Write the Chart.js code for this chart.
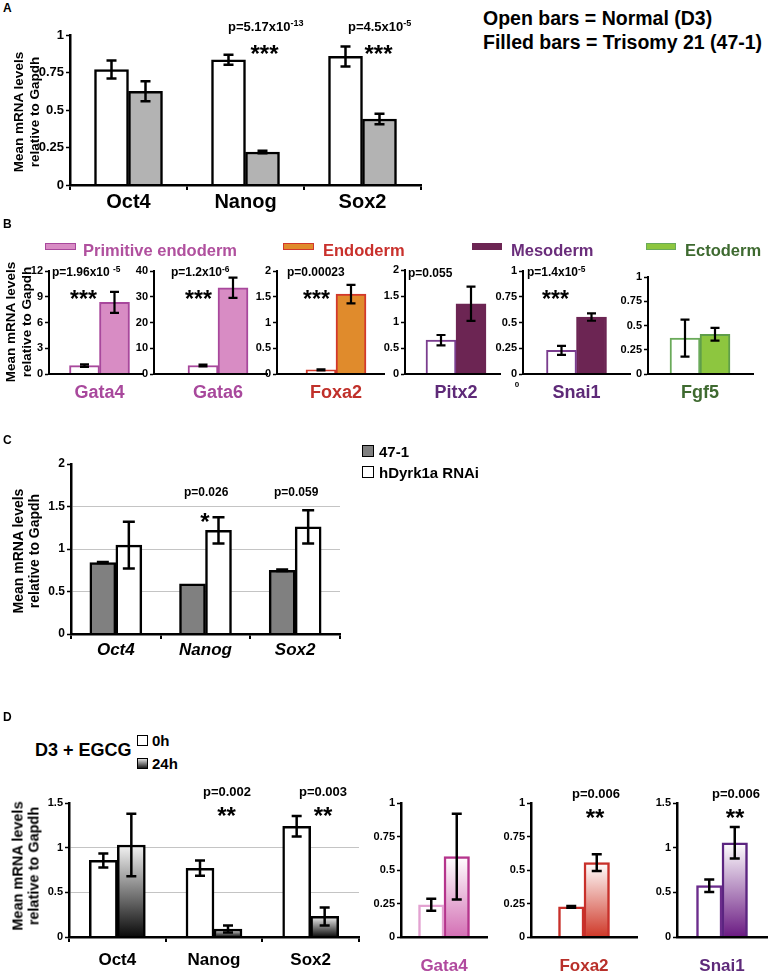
<!DOCTYPE html>
<html><head><meta charset="utf-8">
<script src="https://cdn.jsdelivr.net/npm/chart.js@4.4.1/dist/chart.umd.min.js"></script>
<style>
html,body{margin:0;padding:0;background:#fff}
body{width:769px;height:971px;position:relative;overflow:hidden;font-family:"Liberation Sans",Arial,Helvetica,sans-serif;font-weight:bold;color:#000}
canvas{position:absolute}
.t{position:absolute;white-space:nowrap;line-height:1}
.t sup{font-size:0.7em;vertical-align:0.45em;line-height:0}
.sw{position:absolute;box-sizing:border-box}
</style></head><body>
<script>
// ---------- DATA ----------
const panelACategories = ['Oct4', 'Nanog', 'Sox2'];
const panelANormal = [0.77, 0.835, 0.857];
const panelANormalErr = [0.06, 0.033, 0.067];
const panelATrisomy = [0.625, 0.22, 0.44];
const panelATrisomyErr = [0.067, 0.008, 0.035];

const panelBGenes = ['Gata4', 'Gata6', 'Foxa2', 'Pitx2', 'Snai1', 'Fgf5'];
const panelBNormal = [0.97, 3.3, 0.08, 0.65, 0.23, 0.37];
const panelBNormalErr = [0.15, 0.35, 0.012, 0.1, 0.044, 0.19];
const panelBTrisomy = [8.35, 33.5, 1.55, 1.35, 0.553, 0.41];
const panelBTrisomyErr = [1.22, 3.9, 0.18, 0.33, 0.036, 0.065];
const panelBAxisMax = [12, 40, 2, 2, 1, 1];
const panelBAxisStep = [3, 10, 0.5, 0.5, 0.25, 0.25];

const panelCCategories = ['Oct4', 'Nanog', 'Sox2'];
const panelC471 = [0.84, 0.59, 0.75];
const panelC471Err = [0.006, 0, 0.01];
const panelCRNAi = [1.045, 1.22, 1.26];
const panelCRNAiErr = [0.275, 0.155, 0.195];

const panelDCategories = ['Oct4', 'Nanog', 'Sox2'];
const panelD0h = [0.857, 0.77, 1.24];
const panelD0hErr = [0.078, 0.085, 0.115];
const panelD24h = [1.03, 0.09, 0.23];
const panelD24hErr = [0.35, 0.04, 0.1];
const panelDMarkers = ['Gata4', 'Foxa2', 'Snai1'];
const panelDMarkers0h = [0.24, 0.225, 0.575];
const panelDMarkers0hErr = [0.045, 0.006, 0.07];
const panelDMarkers24h = [0.6, 0.555, 1.055];
const panelDMarkers24hErr = [0.32, 0.063, 0.176];
const panelDMarkerAxisMax = [1, 1, 1.5];
const panelDMarkerAxisStep = [0.25, 0.25, 0.5];

// ---------- SETUP ----------
Chart.defaults.font.family = '"Liberation Sans", Arial, Helvetica, sans-serif';
Chart.defaults.font.weight = 'bold';
Chart.defaults.color = '#000';
Chart.defaults.animation = false;

const errPlugin = {
  id: 'errbars',
  afterDatasetsDraw(chart, args, opts) {
    const ctx = chart.ctx, ys = chart.scales.y;
    ctx.save();
    ctx.strokeStyle = '#000';
    ctx.lineWidth = opts.lw || 2;
    chart.data.datasets.forEach((ds, di) => {
      if (!ds.errors) return;
      const meta = chart.getDatasetMeta(di);
      meta.data.forEach((el, i) => {
        const e = ds.errors[i];
        if (!e) return;
        const raw = ds.data[i];
        const v = typeof raw === 'object' ? raw.y : raw;
        const x = el.x, y1 = ys.getPixelForValue(v + e), y2 = ys.getPixelForValue(v - e);
        const h = (opts.cap || 10) / 2;
        ctx.beginPath();
        ctx.moveTo(x, y1); ctx.lineTo(x, y2);
        ctx.moveTo(x - h, y1); ctx.lineTo(x + h, y1);
        ctx.moveTo(x - h, y2); ctx.lineTo(x + h, y2);
        ctx.stroke();
      });
    });
    ctx.restore();
  }
};
Chart.register(errPlugin);

function gradFill(topColor, bottomColor) {
  return (c) => {
    if (c.type !== 'data') return bottomColor;
    const ch = c.chart, ys = ch.scales && ch.scales.y;
    if (!ys || !c.parsed) return bottomColor;
    const y0 = ys.getPixelForValue(c.parsed.y), y1 = ys.getPixelForValue(0);
    if (!isFinite(y0) || !isFinite(y1) || y0 === y1) return bottomColor;
    const g = ch.ctx.createLinearGradient(0, y0, 0, y1);
    g.addColorStop(0, topColor);
    g.addColorStop(1, bottomColor);
    return g;
  };
}

const fmt = v => String(+(+v).toFixed(4));

function makeChart(s) {
  const cv = document.createElement('canvas');
  const w = Math.round(s.R - s.L + s.yw + s.pr), h = Math.round(s.B - s.T + s.pt + s.xh);
  cv.width = w; cv.height = h;
  cv.style.left = (s.L - s.yw) + 'px';
  cv.style.top = (s.T - s.pt) + 'px';
  cv.style.width = w + 'px'; cv.style.height = h + 'px';
  document.body.appendChild(cv);
  const lin = s.center !== undefined;
  const frac = lin ? (s.center - s.L) / (s.R - s.L) : 0;
  const datasets = s.series.map(d => ({
    data: lin ? d.values.map(v => ({ x: frac, y: v })) : d.values,
    errors: d.errors,
    backgroundColor: d.bg,
    borderColor: d.border,
    borderWidth: d.bw,
    barThickness: s.barW,
    borderSkipped: 'start'
  }));
  const xTickFont = { size: s.xFont, style: s.xStyle || 'normal', weight: 'bold', lineHeight: 1.2 };
  const xScale = lin ? {
    type: 'linear', min: 0, max: 1, offset: false,
    afterBuildTicks: sc => { sc.ticks = [{ value: frac }]; },
    ticks: { callback: () => s.labels[0], color: s.xColor || '#000', font: xTickFont, padding: s.xPad, autoSkip: false, maxRotation: 0 },
    grid: { display: false, drawTicks: false },
    border: { display: true, color: '#000', width: s.axisW, z: 1 },
    afterFit: sc => { sc.height = s.xh; }
  } : {
    type: 'category', offset: true,
    ticks: { color: s.xColor || '#000', font: xTickFont, padding: s.xPad, autoSkip: false, maxRotation: 0 },
    grid: { display: !!s.xTicks, offset: true, drawOnChartArea: false, drawTicks: true, tickLength: 5, color: '#000', lineWidth: 2 },
    border: { display: true, color: '#000', width: s.axisW, z: 1 },
    afterFit: sc => { sc.height = s.xh; }
  };
  const yMax = s.yMax;
  return new Chart(cv, {
    type: 'bar',
    data: { labels: lin ? undefined : s.labels, datasets },
    options: {
      responsive: false, animation: false, devicePixelRatio: 1,
      layout: { padding: { top: s.pt, right: s.pr, left: 0, bottom: 0 } },
      plugins: { legend: { display: false }, tooltip: { enabled: false }, errbars: { cap: s.cap, lw: s.lw } },
      scales: {
        x: xScale,
        y: {
          min: 0, max: yMax,
          ticks: { stepSize: s.yStep, font: { size: s.yFont, weight: 'bold' }, padding: 2, color: '#000', callback: fmt },
          grid: {
            drawOnChartArea: !!s.yGrid,
            color: c => (c.tick && c.tick.value > 0 && c.tick.value < yMax) ? '#c4c4c4' : 'rgba(0,0,0,0)',
            tickColor: '#000', tickLength: 4, tickWidth: 1.5, lineWidth: 1
          },
          border: { display: true, color: '#000', width: s.axisW, z: 1 },
          afterFit: sc => { sc.width = s.yw; }
        }
      }
    }
  });
}

function txt(x, y, html, size, opts = {}) {
  const d = document.createElement('div');
  d.className = 't';
  d.innerHTML = html;
  d.style.left = x + 'px';
  d.style.top = y + 'px';
  d.style.fontSize = size + 'px';
  if (opts.color) d.style.color = opts.color;
  if (opts.italic) d.style.fontStyle = 'italic';
  d.style.transform = opts.center ? 'translate(-50%,-50%)' : 'translate(0,-50%)';
  document.body.appendChild(d);
  return d;
}
function ytitle(cx, cy, size) {
  const d = document.createElement('div');
  d.className = 't';
  d.style.left = cx + 'px'; d.style.top = cy + 'px';
  d.style.fontSize = size + 'px';
  d.style.lineHeight = '15.5px';
  d.style.textAlign = 'center';
  d.style.transform = 'translate(-50%,-50%) rotate(-90deg)';
  d.innerHTML = 'Mean mRNA levels<br>relative to Gapdh';
  document.body.appendChild(d);
}
function swatch(x, y, w, h, bg, border, bw) {
  const d = document.createElement('div');
  d.className = 'sw';
  d.style.left = x + 'px'; d.style.top = y + 'px';
  d.style.width = w + 'px'; d.style.height = h + 'px';
  d.style.background = bg;
  d.style.border = bw + 'px solid ' + border;
  document.body.appendChild(d);
}

// ---------- PANEL A ----------
makeChart({
  L: 70, R: 421, T: 35, B: 185, yw: 42, xh: 40, pt: 10, pr: 3,
  labels: panelACategories, barW: 34, yMax: 1, yStep: 0.25, yFont: 13,
  xFont: 20, xPad: 0, xTicks: true, axisW: 2.5, cap: 10, lw: 2.5,
  series: [
    { values: panelANormal, errors: panelANormalErr, bg: '#ffffff', border: '#000', bw: 2.5 },
    { values: panelATrisomy, errors: panelATrisomyErr, bg: '#b3b3b3', border: '#000', bw: 2.5 }
  ]
});
txt(3, 8, 'A', 12);
ytitle(25.5, 112, 13.5);
txt(228, 26, 'p=5.17x10<sup>-13</sup>', 13);
txt(264.5, 54, '***', 24, { center: true });
txt(348, 26, 'p=4.5x10<sup>-5</sup>', 13);
txt(378.5, 54, '***', 24, { center: true });
txt(483, 19, 'Open bars = Normal (D3)', 19.5);
txt(483, 43, 'Filled bars = Trisomy 21 (47-1)', 19.5);

// ---------- PANEL B ----------
const bGeom = [
  { L: 49, R: 143, T: 271, c: 99.5 },
  { L: 154, R: 267, T: 271, c: 218 },
  { L: 277, R: 384, T: 271, c: 336 },
  { L: 405, R: 500, T: 270, c: 456 },
  { L: 523, R: 630, T: 271, c: 576.5 },
  { L: 648, R: 753, T: 277, c: 700 }
];
const bStyle = [
  { fill: '#d88cc4', border: '#a8489c', open: '#a8489c', label: '#a8489c' },
  { fill: '#d88cc4', border: '#a8489c', open: '#a8489c', label: '#a8489c' },
  { fill: '#e08b2c', border: '#d2382b', open: '#d2382b', label: '#c0302a' },
  { fill: '#6c2553', border: '#6c2553', open: '#7a3d8e', label: '#5e2a78' },
  { fill: '#6c2553', border: '#6c2553', open: '#7a3d8e', label: '#5e2a78' },
  { fill: '#8dc63f', border: '#5f9e4a', open: '#6aaa5a', label: '#3f6a30' }
];
panelBGenes.forEach((g, i) => {
  const G = bGeom[i], S = bStyle[i];
  makeChart({
    L: G.L, R: G.R, T: G.T, B: 374, yw: 30, xh: 32, pt: 10, pr: 2, center: G.c,
    labels: [g], barW: 30, yMax: panelBAxisMax[i], yStep: panelBAxisStep[i], yFont: 11,
    xFont: 18, xPad: 8, xColor: S.label, axisW: 2, cap: 9, lw: 2.2,
    series: [
      { values: [panelBNormal[i]], errors: [panelBNormalErr[i]], bg: '#ffffff', border: S.open, bw: 2 },
      { values: [panelBTrisomy[i]], errors: [panelBTrisomyErr[i]], bg: S.fill, border: S.border, bw: 2 }
    ]
  });
});
txt(3, 224, 'B', 12);
ytitle(17.5, 322, 13.5);
swatch(45, 243, 31, 7, '#d88cc4', '#a8489c', 1.5);
txt(83, 250, 'Primitive endoderm', 16.5, { color: '#b0509e' });
swatch(283, 243, 31, 7, '#e08b2c', '#d2382b', 1.5);
txt(323, 250, 'Endoderm', 16.5, { color: '#c9302c' });
swatch(472, 243, 30, 7, '#6c2553', '#6c2553', 1.5);
txt(511, 250, 'Mesoderm', 16.5, { color: '#6a2d7b' });
swatch(646, 243, 30, 7, '#8dc63f', '#6aaa5a', 1.5);
txt(685, 250, 'Ectoderm', 16.5, { color: '#3e6a30' });
txt(52, 272, 'p=1.96x10 <sup>-5</sup>', 12);
txt(83.5, 299, '***', 23, { center: true });
txt(171, 272, 'p=1.2x10<sup>-6</sup>', 12);
txt(198.5, 299, '***', 23, { center: true });
txt(287, 272, 'p=0.00023', 12);
txt(316.5, 299, '***', 23, { center: true });
txt(408, 273, 'p=0.055', 12);
txt(527, 272, 'p=1.4x10<sup>-5</sup>', 12);
txt(555.5, 299, '***', 23, { center: true });
txt(517, 385, '0', 8, { center: true });

// ---------- PANEL C ----------
makeChart({
  L: 71, R: 340, T: 464, B: 634, yw: 40, xh: 30, pt: 10, pr: 3,
  labels: panelCCategories, barW: 26, yMax: 2, yStep: 0.5, yFont: 12, yGrid: true,
  xFont: 17, xStyle: 'italic', xPad: 1, xTicks: true, axisW: 2.5, cap: 12, lw: 2.5,
  series: [
    { values: panelC471, errors: panelC471Err, bg: '#808080', border: '#000', bw: 2.5 },
    { values: panelCRNAi, errors: panelCRNAiErr, bg: '#ffffff', border: '#000', bw: 2.5 }
  ]
});
txt(3, 440, 'C', 12);
ytitle(25.5, 551, 14);
swatch(362, 445, 12, 12, '#808080', '#000', 1.5);
txt(379, 451, '47-1', 15);
swatch(362, 466, 12, 12, '#ffffff', '#000', 1.5);
txt(379, 472, 'hDyrk1a RNAi', 15);
txt(184, 492, 'p=0.026', 12);
txt(205, 522, '*', 24, { center: true });
txt(274, 492, 'p=0.059', 12);

// ---------- PANEL D ----------
makeChart({
  L: 68.5, R: 358, T: 802.7, B: 936.7, yw: 40, xh: 34, pt: 10, pr: 3,
  labels: panelDCategories, barW: 28, yMax: 1.5, yStep: 0.5, yFont: 11, yGrid: true,
  xFont: 17, xPad: 8, xTicks: true, axisW: 2.5, cap: 10, lw: 2.5,
  series: [
    { values: panelD0h, errors: panelD0hErr, bg: '#ffffff', border: '#000', bw: 2.5 },
    { values: panelD24h, errors: panelD24hErr, bg: gradFill('#f4f4f4', '#0a0a0a'), border: '#000', bw: 2.5 }
  ]
});
const dGeom = [
  { L: 401, R: 487 },
  { L: 531, R: 637 },
  { L: 677, R: 767 }
];
const dStyle = [
  { open: '#e3a2d1', border: '#b5348c', bottom: '#d36fb4', label: '#b04a9e' },
  { open: '#c8302a', border: '#c8302a', bottom: '#cf3828', label: '#b8302a' },
  { open: '#6b2c8c', border: '#5b2480', bottom: '#6a1a82', label: '#5e2a7a' }
];
panelDMarkers.forEach((g, i) => {
  const G = dGeom[i], S = dStyle[i];
  makeChart({
    L: G.L, R: G.R, T: 802.7, B: 936.7, yw: 34, xh: 34, pt: 10, pr: 3,
    labels: [g], barW: 25.5, yMax: panelDMarkerAxisMax[i], yStep: panelDMarkerAxisStep[i], yFont: 11,
    xFont: 17, xPad: 14, xColor: S.label, xTicks: false, axisW: 2.5, cap: 10, lw: 2.5,
    series: [
      { values: [panelDMarkers0h[i]], errors: [panelDMarkers0hErr[i]], bg: '#ffffff', border: S.open, bw: 2.5 },
      { values: [panelDMarkers24h[i]], errors: [panelDMarkers24hErr[i]], bg: gradFill('#ffffff', S.bottom), border: S.border, bw: 2.5 }
    ]
  });
});
txt(3, 717, 'D', 12);
ytitle(25.5, 866, 14.5);
txt(35, 750, 'D3 + EGCG', 18);
swatch(137, 735, 11, 11, '#ffffff', '#000', 1.5);
txt(152, 740, '0h', 15);
swatch(137, 758, 11, 11, 'linear-gradient(#e0e0e0,#1a1a1a)', '#000', 1.5);
txt(152, 763, '24h', 15);
txt(203, 791, 'p=0.002', 13);
txt(226.5, 816, '**', 24, { center: true });
txt(299, 791, 'p=0.003', 13);
txt(323, 816, '**', 24, { center: true });
txt(572, 793, 'p=0.006', 13);
txt(595, 818, '**', 24, { center: true });
txt(712, 793, 'p=0.006', 13);
txt(735, 818, '**', 24, { center: true });
</script>
</body></html>
